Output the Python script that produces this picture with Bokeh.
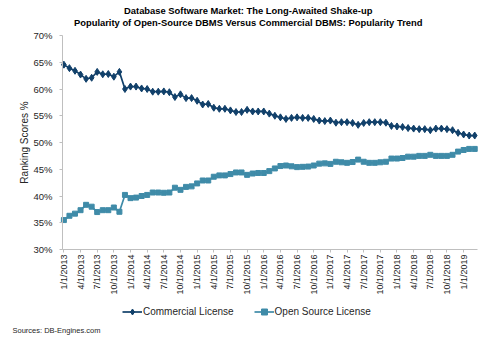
import math
from bokeh.plotting import figure
from bokeh.models import (Range1d, FixedTicker, Legend, LegendItem, Label,
                          PrintfTickFormatter, ColumnDataSource)
from bokeh.embed import file_html
from bokeh.resources import INLINE

# ---- data (monthly, Jan 2013 .. Mar 2019) ----
months = [f"{m}/1/{y}" for y in range(2013, 2020) for m in range(1, 13)][:75]
commercial = [64.55, 63.9, 63.4, 62.7, 61.9, 62.1, 63.2, 62.75, 62.8, 62.3, 63.2,
              60.0, 60.45, 60.45, 60.1, 60.0, 59.5, 59.5, 59.55, 59.4, 58.5, 59.0,
              58.3, 58.3, 57.8, 57.1, 57.2, 56.5, 56.3, 56.3, 56.0, 55.7, 55.7, 56.1,
              55.8, 55.8, 55.8, 55.4, 55.0, 54.7, 54.4, 54.6, 54.7, 54.6, 54.6, 54.4,
              54.1, 54.0, 54.1, 53.7, 53.8, 53.8, 53.65, 53.3, 53.65, 53.8, 53.8, 53.8,
              53.7, 53.1, 53.0, 52.9, 52.7, 52.6, 52.5, 52.5, 52.3, 52.6, 52.6, 52.5,
              52.3, 51.8, 51.5, 51.3, 51.3]
open_source = [35.5, 36.3, 36.7, 37.35, 38.35, 38.0, 37.0, 37.35, 37.35, 37.85, 37.05,
               40.2, 39.6, 39.7, 40.0, 40.2, 40.65, 40.65, 40.6, 40.65, 41.55, 41.15,
               41.7, 41.8, 42.35, 42.9, 42.9, 43.6, 43.85, 43.85, 44.1, 44.4, 44.4, 43.95,
               44.2, 44.3, 44.3, 44.65, 45.15, 45.6, 45.7, 45.55, 45.4, 45.45, 45.5, 45.7,
               46.05, 46.1, 46.0, 46.4, 46.3, 46.2, 46.35, 46.8, 46.4, 46.2, 46.2, 46.3,
               46.4, 47.0, 47.0, 47.1, 47.35, 47.35, 47.5, 47.5, 47.7, 47.5, 47.5, 47.5,
               47.7, 48.3, 48.6, 48.8, 48.8]
y_ticks = [30, 35, 40, 45, 50, 55, 60, 65, 70]
title1 = "Database Software Market: The Long-Awaited Shake-up"
title2 = "Popularity of Open-Source DBMS Versus Commercial DBMS: Popularity Trend"
source_note = "Sources: DB-Engines.com"

C_COM = "#11406a"
C_OSS = "#3f8ba8"
FONT = "Liberation Sans"
TXT = "#262626"

W, H = 500, 338
X0, X1 = -0.25, 74.5          # axis extent (months)
Y0, Y1 = 30, 70               # axis extent (%)
PX_L, PX_R = 62, 477          # plot-area pixel edges
PY_T, PY_B = 35, 249
kx = (PX_R - PX_L) / (X1 - X0)
ky = (PY_B - PY_T) / (Y1 - Y0)

idx = list(range(len(months)))
src = ColumnDataSource(dict(x=idx, com=commercial, oss=open_source, m=months))

p = figure(width=W, height=H, output_backend="svg", toolbar_location=None,
           x_range=Range1d(X0 - PX_L / kx, X1 + (W - PX_R) / kx),
           y_range=Range1d(Y0 - (H - PY_B) / ky, Y1 + PY_T / ky),
           min_border=0)
p.outline_line_color = None
p.xgrid.visible = False
p.ygrid.visible = False
p.background_fill_color = "white"
p.border_fill_color = "white"

r1l = p.line("x", "com", source=src, line_color=C_COM, line_width=1.7)
r1m = p.scatter("x", "com", source=src, marker="diamond", size=7,
                fill_color=C_COM, line_color=C_COM)
r2l = p.line("x", "oss", source=src, line_color=C_OSS, line_width=1.7)
r2m = p.scatter("x", "oss", source=src, marker="square", size=5,
                fill_color=C_OSS, line_color=C_OSS)

# axes
xa = p.xaxis[0]
xa.fixed_location = Y0
xa.bounds = (X0, X1)
tick_idx = list(range(0, len(months), 3))
xa.ticker = FixedTicker(ticks=tick_idx)
xa.major_label_overrides = {i: months[i] for i in tick_idx}
xa.major_label_orientation = math.pi / 2
xa.major_label_text_font = FONT
xa.major_label_text_font_size = "9px"
xa.major_label_text_color = TXT
xa.axis_line_color = "#bfbfbf"
xa.major_tick_line_color = "#bfbfbf"
xa.major_tick_out = 3
xa.major_tick_in = 0
xa.minor_tick_line_color = None
xa.major_label_standoff = 2

ya = p.yaxis[0]
ya.fixed_location = X0
ya.bounds = (Y0, Y1)
ya.ticker = FixedTicker(ticks=y_ticks)
ya.formatter = PrintfTickFormatter(format="%d%%")
ya.major_label_text_font = FONT
ya.major_label_text_font_size = "9.5px"
ya.major_label_text_color = TXT
ya.axis_line_color = "#bfbfbf"
ya.major_tick_line_color = "#bfbfbf"
ya.major_tick_out = 3
ya.major_tick_in = 0
ya.minor_tick_line_color = None
ya.major_label_standoff = 7
ya.axis_label = "Ranking Scores %"
ya.axis_label_text_font = FONT
ya.axis_label_text_font_size = "10px"
ya.axis_label_text_font_style = "normal"
ya.axis_label_text_color = TXT
ya.axis_label_standoff = 0

legend = Legend(items=[LegendItem(label="Commercial License", renderers=[r1l, r1m]),
                       LegendItem(label="Open Source License", renderers=[r2l, r2m])],
                orientation="horizontal", location=(122, 19.5), margin=0,
                padding=0, spacing=20, glyph_width=20, glyph_height=15,
                label_standoff=1, label_text_font=FONT, label_text_font_size="10px",
                label_text_color=TXT, border_line_color=None,
                background_fill_alpha=0)
p.add_layout(legend, "center")

for txt, yy in [(title1, H - 10), (title2, H - 22)]:
    p.add_layout(Label(x=247.7, y=yy, x_units="screen", y_units="screen", text=txt,
                       text_align="center", text_baseline="middle",
                       text_font=FONT, text_font_size="9.4px",
                       text_font_style="bold", text_color="black"))
p.add_layout(Label(x=12, y=H - 330, x_units="screen", y_units="screen", text=source_note,
                   text_align="left", text_baseline="middle", text_font=FONT,
                   text_font_size="7.5px", text_color=TXT))

open("out.html", "w").write(file_html(p, INLINE))
